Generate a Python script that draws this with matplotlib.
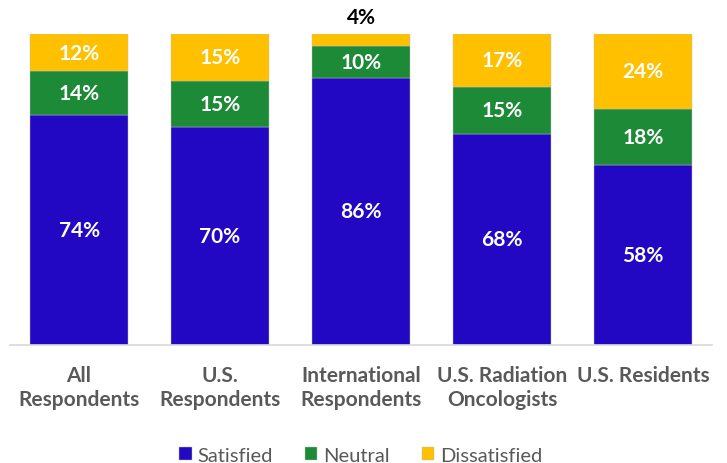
import matplotlib.pyplot as plt
import numpy as np

plt.rcParams['font.family'] = ['Lato', 'DejaVu Sans']

categories = ["All\nRespondents", "U.S.\nRespondents", "International\nRespondents",
              "U.S. Radiation\nOncologists", "U.S. Residents"]
satisfied = [74, 70, 86, 68, 58]
neutral = [14, 15, 10, 15, 18]
dissatisfied = [12, 15, 4, 17, 24]

colors = ["#2308C3", "#1C8A36", "#FFC000"]
names = ["Satisfied", "Neutral", "Dissatisfied"]

fig = plt.figure(figsize=(7.27, 4.64), dpi=100)
ax = fig.add_axes([0.0138, 0.254, 0.9655, 0.6706])

x = np.arange(len(categories))
w = 0.69
bottom = np.zeros(len(categories))
for vals, c, n in zip([satisfied, neutral, dissatisfied], colors, names):
    ax.bar(x, vals, w, bottom=bottom, color=c, label=n, edgecolor="#bfbfbf", linewidth=0.3)
    for xi, b, v in zip(x, bottom, vals):
        if v >= 8:
            ax.text(xi, b + v / 2, f"{v}%", ha="center", va="center",
                    color="white", fontsize=15, fontweight="bold")
        else:
            ax.text(xi, 100 + 5.5, f"{v}%", ha="center", va="center",
                    color="black", fontsize=15, fontweight="bold")
    bottom += np.array(vals)

ax.set_xlim(-0.49, 4.49)
ax.set_ylim(0, 100)
for s in ["top", "right", "left"]:
    ax.spines[s].set_visible(False)
ax.spines["bottom"].set_color("#d9d9d9")
ax.spines["bottom"].set_linewidth(1.2)
ax.set_yticks([])
ax.set_xticks(x)
ax.set_xticklabels(categories, fontsize=15, fontweight="bold", color="#595959",
                   linespacing=1.3)
ax.tick_params(axis="x", length=0, pad=14)

ax.legend(loc="lower center", bbox_to_anchor=(0.5, -0.44), ncol=3, frameon=False,
          fontsize=14.5, labelcolor="#595959", handlelength=0.6, handleheight=0.6,
          handletextpad=0.3, columnspacing=1.6)

fig.savefig("out.png", dpi=100)
